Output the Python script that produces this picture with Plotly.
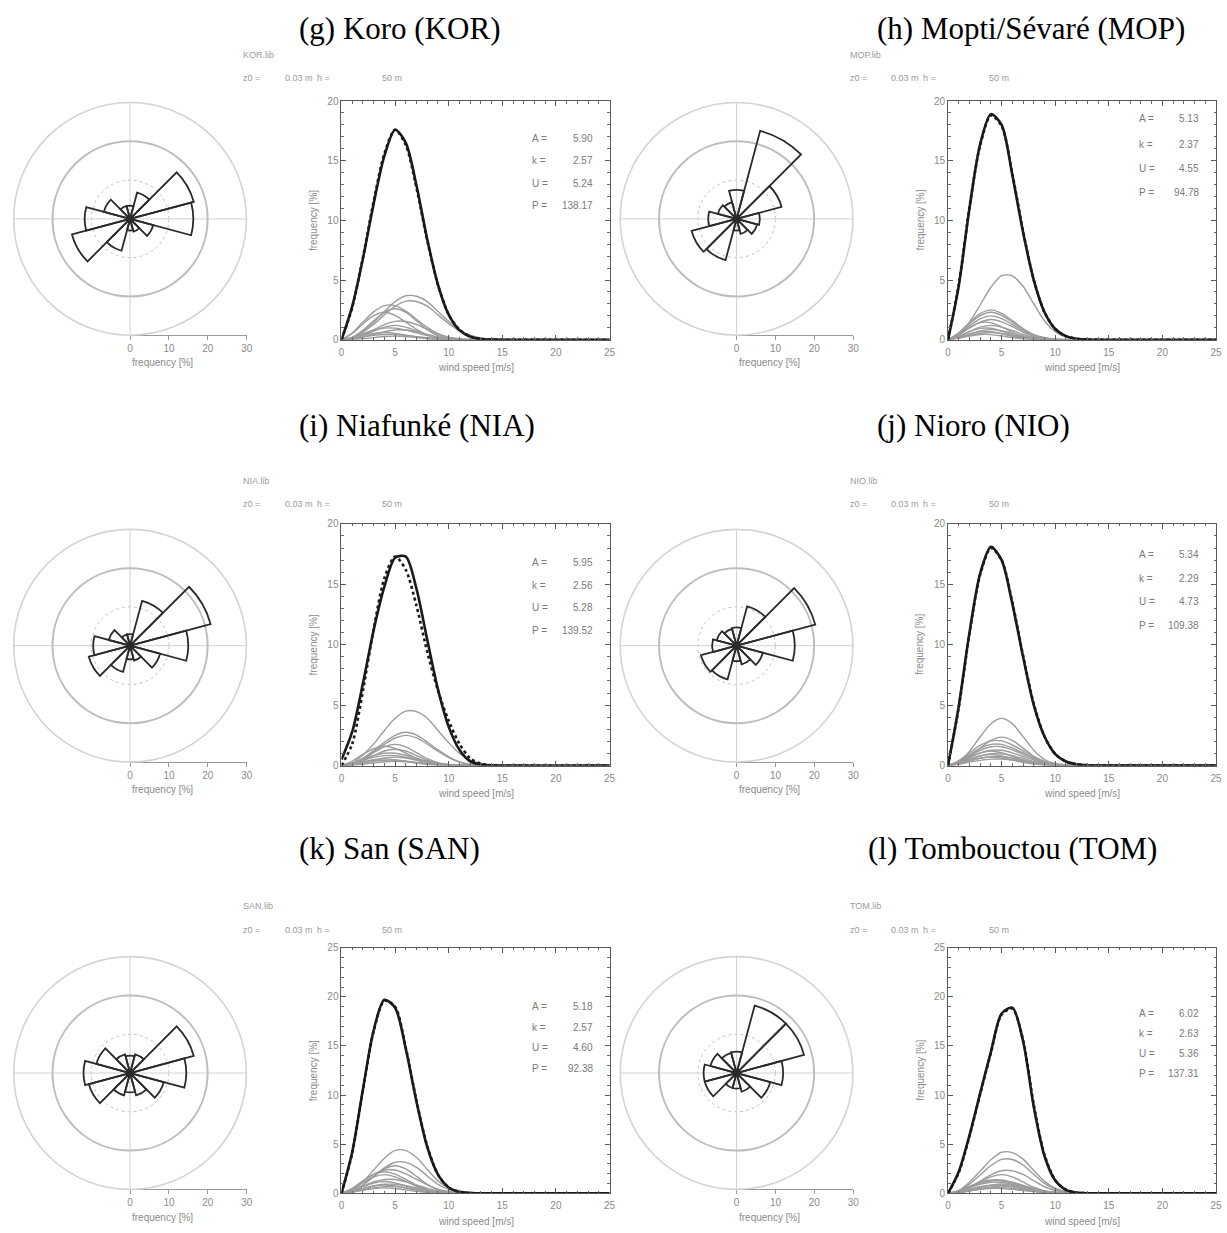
import plotly.graph_objects as go

# ---------------- data ----------------
WS = [0, 1, 2, 3, 4, 5, 6, 7, 8, 9, 10, 11, 12, 13, 14, 25]          # wind speed [m/s]
SECTORS = [0, 30, 60, 90, 120, 150, 180, 210, 240, 270, 300, 330]    # sector centres [deg]
STAT_LABELS = ["A =", "k =", "U =", "P ="]

TITLES = ["(g) Koro (KOR)", "(h) Mopti/Sévaré (MOP)", "(i) Niafunké (NIA)",
          "(j) Nioro (NIO)", "(k) San (SAN)", "(l) Tombouctou (TOM)"]
LIBS = ["KOR.lib", "MOP.lib", "NIA.lib", "NIO.lib", "SAN.lib", "TOM.lib"]

# wind rose frequencies [%] per sector
KOR_ROSE = [3.4, 7.0, 17.0, 16.3, 6.2, 3.4, 3.0, 8.5, 15.5, 11.7, 7.0, 3.5]
MOP_ROSE = [7.5, 23.5, 12.0, 6.0, 5.5, 4.0, 3.0, 11.0, 12.0, 7.3, 5.0, 4.5]
NIA_ROSE = [3.0, 12.0, 21.5, 15.0, 8.0, 4.0, 3.5, 7.0, 11.0, 9.5, 5.7, 3.0]
NIO_ROSE = [4.7, 10.5, 21.0, 15.0, 7.0, 5.0, 4.0, 9.0, 9.5, 6.3, 5.3, 4.5]
SAN_ROSE = [4.5, 5.0, 17.0, 14.5, 9.0, 6.0, 5.0, 6.0, 11.0, 12.0, 9.0, 5.0]
TOM_ROSE = [5.5, 18.0, 18.0, 12.0, 9.0, 5.0, 4.0, 4.0, 8.5, 8.5, 7.0, 5.4]

# statistics text
KOR_STATS = ["5.90", "2.57", "5.24", "138.17"]
MOP_STATS = ["5.13", "2.37", "4.55", "94.78"]
NIA_STATS = ["5.95", "2.56", "5.28", "139.52"]
NIO_STATS = ["5.34", "2.29", "4.73", "109.38"]
SAN_STATS = ["5.18", "2.57", "4.60", "92.38"]
TOM_STATS = ["6.02", "2.63", "5.36", "137.31"]

# total distributions [%] (solid = observed, dashed = fitted)
KOR_SOLID = [0, 2.8, 6.8, 11.4, 15.4, 17.6, 16.5, 12.9, 8.4, 4.6, 2.1, 0.8, 0.25, 0.06, 0.01, 0]
KOR_DASH = [0, 2.7, 6.9, 11.6, 15.6, 17.6, 16.3, 12.7, 8.3, 4.6, 2.1, 0.85, 0.28, 0.07, 0.01, 0]
MOP_SOLID = [0, 4.5, 11.0, 16.4, 18.9, 18.0, 13.8, 9.0, 5.0, 2.3, 0.9, 0.3, 0.08, 0.02, 0, 0]
MOP_DASH = [0, 4.6, 11.1, 16.3, 18.8, 17.9, 13.9, 9.1, 5.0, 2.3, 0.9, 0.3, 0.08, 0.02, 0, 0]
NIA_SOLID = [0.5, 2.8, 6.8, 11.2, 14.8, 17.2, 17.3, 14.6, 10.4, 6.3, 3.2, 1.3, 0.35, 0.08, 0.01, 0]
NIA_DASH = [0, 1.8, 6.2, 11.3, 15.5, 17.3, 16.2, 13.2, 9.4, 6.2, 3.7, 1.8, 0.6, 0.15, 0.02, 0]
NIO_SOLID = [0, 4.9, 11.0, 15.9, 18.1, 17.0, 13.4, 9.0, 5.0, 2.4, 0.95, 0.33, 0.1, 0.02, 0, 0]
NIO_DASH = [0, 4.8, 10.9, 15.8, 18.0, 17.0, 13.5, 9.1, 5.1, 2.4, 0.95, 0.33, 0.1, 0.02, 0, 0]
SAN_SOLID = [0, 4.2, 10.6, 16.6, 19.7, 18.9, 14.7, 9.3, 4.7, 1.9, 0.6, 0.15, 0.03, 0, 0, 0]
SAN_DASH = [0, 4.1, 10.5, 16.5, 19.6, 19.0, 14.8, 9.4, 4.8, 1.9, 0.6, 0.15, 0.03, 0, 0, 0]
TOM_SOLID = [0, 2.2, 5.9, 10.2, 14.4, 18.3, 18.9, 15.5, 8.8, 3.8, 1.3, 0.35, 0.08, 0.01, 0, 0]
TOM_DASH = [0, 2.1, 5.8, 10.1, 14.3, 18.2, 18.8, 15.6, 9.0, 3.9, 1.35, 0.37, 0.08, 0.01, 0, 0]

# per-sector distributions [%] (grey curves)
KOR_SECTOR_CURVES = [
    [0, .17, .71, 1.46, 2.36, 3.19, 3.68, 3.64, 3.19, 2.36, 1.54, .83, .38, .14, .04, 0],
    [0, .15, .63, 1.29, 2.08, 2.81, 3.23, 3.2, 2.81, 2.08, 1.35, .73, .33, .13, .04, 0],
    [0, .56, 1.48, 2.33, 2.86, 2.86, 2.39, 1.71, 1.03, .51, .22, .08, .02, 0, 0, 0],
    [0, .2, .78, 1.59, 2.3, 2.6, 2.3, 1.59, .85, .34, .1, .02, 0, 0, 0, 0],
    [0, .53, 1.32, 2.01, 2.3, 2.04, 1.47, .86, .4, .16, .05, .01, 0, 0, 0, 0],
    [0, .1, .42, .83, 1.26, 1.54, 1.53, 1.28, .86, .45, .19, .06, .01, 0, 0, 0],
    [0, .09, .36, .73, 1.06, 1.2, 1.06, .74, .39, .15, .05, .01, 0, 0, 0, 0],
    [0, .19, .5, .79, .97, .97, .81, .58, .35, .17, .08, .03, .01, 0, 0, 0],
    [0, .05, .22, .44, .67, .82, .81, .68, .45, .24, .1, .03, .01, 0, 0, 0],
    [0, .14, .35, .52, .6, .53, .38, .23, .1, .04, .01, 0, 0, 0, 0, 0],
    [0, .09, .23, .36, .44, .44, .36, .26, .16, .08, .03, .01, 0, 0, 0, 0],
    [0, .02, .09, .18, .27, .3, .27, .18, .1, .04, .01, 0, 0, 0, 0, 0],
]
MOP_SECTOR_CURVES = [
    [0, .36, 1.46, 2.91, 4.4, 5.38, 5.35, 4.48, 3.0, 1.57, .67, .21, .05, 0, 0, 0],
    [0, .58, 1.44, 2.18, 2.5, 2.21, 1.6, .94, .43, .17, .05, .01, 0, 0, 0, 0],
    [0, .53, 1.32, 2.01, 2.3, 2.04, 1.47, .86, .4, .16, .05, .01, 0, 0, 0, 0],
    [0, .46, 1.15, 1.75, 2.0, 1.77, 1.28, .75, .35, .14, .04, .01, 0, 0, 0, 0],
    [0, .39, .98, 1.48, 1.7, 1.5, 1.09, .64, .29, .12, .03, .01, 0, 0, 0, 0],
    [0, .42, 1.01, 1.43, 1.43, 1.08, .62, .26, .09, .02, 0, 0, 0, 0, 0, 0],
    [0, .28, .69, 1.05, 1.2, 1.06, .77, .45, .21, .08, .02, .01, 0, 0, 0, 0],
    [0, .28, .68, .95, .96, .72, .41, .17, .06, .02, 0, 0, 0, 0, 0, 0],
    [0, .2, .49, .74, .85, .75, .54, .32, .15, .06, .02, 0, 0, 0, 0, 0],
    [0, .2, .47, .67, .67, .5, .29, .12, .04, .01, 0, 0, 0, 0, 0, 0],
    [0, .14, .35, .52, .6, .53, .38, .23, .1, .04, .01, 0, 0, 0, 0, 0],
    [0, .13, .3, .43, .43, .32, .18, .08, .03, .01, 0, 0, 0, 0, 0, 0],
]
NIA_SECTOR_CURVES = [
    [0, .21, .87, 1.79, 2.9, 3.91, 4.51, 4.46, 3.91, 2.9, 1.89, 1.01, .46, .17, .05, 0],
    [0, .15, .61, 1.24, 1.93, 2.5, 2.75, 2.52, 1.95, 1.29, .72, .3, .1, .03, 0, 0],
    [0, .14, .55, 1.13, 1.75, 2.28, 2.5, 2.29, 1.78, 1.18, .65, .28, .1, .03, 0, 0],
    [0, .14, .53, 1.07, 1.55, 1.75, 1.55, 1.07, .57, .23, .07, .01, 0, 0, 0, 0],
    [0, .37, .92, 1.4, 1.6, 1.42, 1.02, .6, .28, .11, .03, .01, 0, 0, 0, 0],
    [0, .11, .41, .82, 1.2, 1.35, 1.2, .83, .44, .17, .05, .01, 0, 0, 0, 0],
    [0, .2, .53, .83, 1.02, 1.02, .85, .61, .37, .18, .08, .03, .01, 0, 0, 0],
    [0, .16, .43, .67, .82, .82, .69, .49, .3, .15, .06, .02, .01, 0, 0, 0],
    [0, .05, .21, .43, .62, .7, .62, .43, .23, .09, .03, .01, 0, 0, 0, 0],
    [0, .13, .32, .48, .55, .49, .35, .21, .1, .04, .01, 0, 0, 0, 0, 0],
    [0, .09, .23, .36, .44, .44, .36, .26, .16, .08, .03, .01, 0, 0, 0, 0],
    [0, .03, .11, .21, .31, .35, .31, .21, .11, .05, .01, 0, 0, 0, 0, 0],
]
NIO_SECTOR_CURVES = [
    [0, .3, 1.17, 2.38, 3.46, 3.9, 3.46, 2.39, 1.27, .5, .15, .03, 0, 0, 0, 0],
    [0, .18, .71, 1.43, 2.08, 2.35, 2.08, 1.44, .76, .3, .09, .02, 0, 0, 0, 0],
    [0, .4, 1.05, 1.66, 2.04, 2.04, 1.7, 1.22, .74, .36, .16, .06, .02, 0, 0, 0],
    [0, .34, .9, 1.42, 1.75, 1.75, 1.46, 1.04, .63, .31, .14, .05, .01, 0, 0, 0],
    [0, .3, .8, 1.26, 1.55, 1.55, 1.3, .93, .56, .28, .12, .04, .01, 0, 0, 0],
    [0, .25, .65, 1.03, 1.26, 1.26, 1.05, .75, .46, .22, .1, .04, .01, 0, 0, 0],
    [0, .28, .69, 1.05, 1.2, 1.06, .77, .45, .21, .08, .02, .01, 0, 0, 0, 0],
    [0, .19, .5, .79, .97, .97, .81, .58, .35, .17, .08, .03, .01, 0, 0, 0],
    [0, .21, .52, .79, .9, .8, .58, .34, .16, .06, .02, 0, 0, 0, 0, 0],
    [0, .14, .38, .59, .73, .73, .61, .44, .26, .13, .06, .02, .01, 0, 0, 0],
    [0, .16, .4, .61, .7, .62, .45, .26, .12, .05, .01, 0, 0, 0, 0, 0],
    [0, .1, .28, .43, .53, .53, .45, .32, .19, .1, .04, .01, 0, 0, 0, 0],
]
SAN_SECTOR_CURVES = [
    [0, .29, 1.18, 2.37, 3.57, 4.37, 4.35, 3.64, 2.43, 1.27, .55, .17, .04, 0, 0, 0],
    [0, .21, .86, 1.72, 2.59, 3.17, 3.15, 2.64, 1.77, .92, .4, .13, .03, 0, 0, 0],
    [0, .22, .84, 1.71, 2.48, 2.8, 2.48, 1.72, .91, .36, .11, .02, 0, 0, 0, 0],
    [0, .47, 1.23, 1.94, 2.38, 2.38, 1.98, 1.42, .86, .42, .18, .07, .02, 0, 0, 0],
    [0, .51, 1.27, 1.92, 2.2, 1.95, 1.41, .83, .38, .15, .04, .01, 0, 0, 0, 0],
    [0, .44, 1.09, 1.66, 1.9, 1.68, 1.22, .71, .33, .13, .04, .01, 0, 0, 0, 0],
    [0, .28, .73, 1.15, 1.41, 1.41, 1.17, .84, .51, .25, .11, .04, .01, 0, 0, 0],
    [0, .28, .69, 1.05, 1.2, 1.06, .77, .45, .21, .08, .02, .01, 0, 0, 0, 0],
    [0, .18, .48, .75, .92, .92, .77, .55, .33, .16, .07, .03, .01, 0, 0, 0],
    [0, .2, .49, .74, .85, .75, .54, .32, .15, .06, .02, 0, 0, 0, 0, 0],
    [0, .13, .35, .55, .68, .68, .57, .41, .25, .12, .05, .02, .01, 0, 0, 0],
    [0, .13, .32, .48, .55, .49, .35, .21, .1, .04, .01, 0, 0, 0, 0, 0],
]
TOM_SECTOR_CURVES = [
    [0, .28, 1.13, 2.26, 3.41, 4.18, 4.15, 3.48, 2.33, 1.22, .52, .17, .04, 0, 0, 0],
    [0, .23, .94, 1.87, 2.83, 3.46, 3.44, 2.88, 1.93, 1.01, .43, .14, .03, 0, 0, 0],
    [0, .15, .62, 1.25, 1.88, 2.3, 2.29, 1.92, 1.28, .67, .29, .09, .02, 0, 0, 0],
    [0, .15, .57, 1.16, 1.68, 1.9, 1.68, 1.16, .62, .25, .07, .02, 0, 0, 0, 0],
    [0, .27, .7, 1.11, 1.36, 1.36, 1.13, .81, .49, .24, .11, .04, .01, 0, 0, 0],
    [0, .25, .65, 1.03, 1.26, 1.26, 1.05, .75, .46, .22, .1, .04, .01, 0, 0, 0],
    [0, .22, .58, .91, 1.12, 1.12, .93, .67, .4, .2, .09, .03, .01, 0, 0, 0],
    [0, .07, .29, .58, .84, .95, .84, .58, .31, .12, .04, .01, 0, 0, 0, 0],
    [0, .16, .43, .67, .82, .82, .69, .49, .3, .15, .06, .02, .01, 0, 0, 0],
    [0, .06, .23, .46, .66, .75, .66, .46, .24, .1, .03, .01, 0, 0, 0, 0],
    [0, .11, .3, .47, .58, .58, .49, .35, .21, .1, .05, .02, 0, 0, 0, 0],
    [0, .1, .25, .4, .49, .49, .41, .29, .18, .09, .04, .01, 0, 0, 0, 0],
]

ROSES = [KOR_ROSE, MOP_ROSE, NIA_ROSE, NIO_ROSE, SAN_ROSE, TOM_ROSE]
STATS = [KOR_STATS, MOP_STATS, NIA_STATS, NIO_STATS, SAN_STATS, TOM_STATS]
SOLIDS = [KOR_SOLID, MOP_SOLID, NIA_SOLID, NIO_SOLID, SAN_SOLID, TOM_SOLID]
DASHES = [KOR_DASH, MOP_DASH, NIA_DASH, NIO_DASH, SAN_DASH, TOM_DASH]
SECTOR_CURVES = [KOR_SECTOR_CURVES, MOP_SECTOR_CURVES, NIA_SECTOR_CURVES,
                 NIO_SECTOR_CURVES, SAN_SECTOR_CURVES, TOM_SECTOR_CURVES]

# ---------------- layout geometry (pixels) ----------------
W, H = 1227, 1233
ROWS = [
    dict(cy=215, top=96, bottom=337, ymax=20, title_y=23, lib_y=49, z0_y=73),
    dict(cy=646, top=523, bottom=767, ymax=20, title_y=424, lib_y=480, z0_y=503),
    dict(cy=1077.5, top=951, bottom=1199, ymax=25, title_y=851, lib_y=909, z0_y=933),
]
COL_DX = [0, 611]
TITLE_X = [296, 878, 296, 878, 296, 869]
STAT_Y = [[16.9, 15.0, 13.1, 11.25], [18.5, 16.4, 14.35, 12.3], [16.8, 14.9, 13.05, 11.2],
          [17.5, 15.5, 13.55, 11.6], [19.0, 16.9, 14.8, 12.7], [18.3, 16.25, 14.2, 12.2]]
R_PX = 117.5

GREY_TXT = "#8a8a8a"
SANS = "Liberation Sans"


def fx(px):
    return px / W


def fy(px):
    return 1 - px / H


def sfx(n):
    return "" if n == 1 else str(n)


fig = go.Figure()
layout = dict(width=W, height=H, margin=dict(l=0, r=0, t=0, b=0), autosize=False,
              paper_bgcolor="white", plot_bgcolor="white", showlegend=False)
annotations = []

for i in range(6):
    row = ROWS[i // 2]
    dx = COL_DX[i % 2]
    nl = i + 1      # line chart axes
    nf = i + 7      # frequency axis of the rose
    xl, yl = "x" + sfx(nl), "y" + sfx(nl)
    xf, yf = "x" + sfx(nf), "y" + sfx(nf)
    p_ring = "polar" + sfx(i + 1)
    p_bar = "polar" + sfx(i + 7)

    # ---- grey sector curves ----
    for c in SECTOR_CURVES[i]:
        fig.add_trace(go.Scatter(x=WS, y=c, mode="lines", xaxis=xl, yaxis=yl, hoverinfo="skip",
                                 line=dict(color="#9c9c9c", width=1.4, shape="spline", smoothing=0.8)))
    fig.add_trace(go.Scatter(x=WS, y=SOLIDS[i], mode="lines", xaxis=xl, yaxis=yl, hoverinfo="skip",
                             line=dict(color="#1a1a1a", width=2.6, shape="spline", smoothing=0.8)))
    fig.add_trace(go.Scatter(x=WS, y=DASHES[i], mode="lines", xaxis=xl, yaxis=yl, hoverinfo="skip",
                             line=dict(color="#1a1a1a", width=2.6, dash="3px,3px", shape="spline", smoothing=0.8)))

    axis_common = dict(showgrid=False, zeroline=False, showline=True, linecolor="#5a5a5a", linewidth=1,
                       mirror="ticks", ticks="inside", ticklen=5, tickwidth=1, tickcolor="#5a5a5a",
                       dtick=5, tick0=0,
                       minor=dict(ticks="inside", ticklen=2.5, dtick=1, tickcolor="#6a6a6a"),
                       tickfont=dict(family=SANS, size=10, color=GREY_TXT))
    layout["xaxis" + sfx(nl)] = dict(axis_common, domain=[fx(341 + dx), fx(611 + dx)], range=[0, 25],
                                     anchor=yl, ticklabelstandoff=3)
    layout["yaxis" + sfx(nl)] = dict(axis_common, domain=[fy(row["bottom"]), fy(row["top"])],
                                     range=[0, row["ymax"]], anchor=xl)

    # ---- wind rose ----
    cx, cy = 128 + dx, row["cy"]
    dom = dict(x=[fx(cx - R_PX), fx(cx + R_PX)], y=[fy(cy + R_PX), fy(cy - R_PX)])
    layout[p_ring] = dict(domain=dom, bgcolor="white",
                          radialaxis=dict(range=[0, 30], tickvals=[10], showticklabels=False, ticks="",
                                          showline=False, gridcolor="#c2c2c2", gridwidth=1.2, griddash="dot"),
                          angularaxis=dict(showgrid=False, showline=False, showticklabels=False, ticks=""))
    layout[p_bar] = dict(domain=dom, bgcolor="rgba(0,0,0,0)",
                         radialaxis=dict(range=[0, 30], tickvals=[20], showticklabels=False, ticks="",
                                         showline=False, gridcolor="#bdbdbd", gridwidth=1.6),
                         angularaxis=dict(rotation=90, direction="clockwise", tickvals=[0, 90, 180, 270],
                                          showticklabels=False, ticks="", gridcolor="#d2d2d2", gridwidth=1,
                                          showline=True, linecolor="#d4d4d4", linewidth=1.6))
    fig.add_trace(go.Scatterpolar(r=[0], theta=[0], mode="markers", subplot=p_ring, hoverinfo="skip",
                                  marker=dict(size=8, color="black")))
    fig.add_trace(go.Barpolar(r=ROSES[i], theta=SECTORS, width=[30] * len(SECTORS), subplot=p_bar,
                              hoverinfo="skip",
                              marker=dict(color="rgba(0,0,0,0)", line=dict(color="#2a2a2a", width=1.8))))

    # frequency axis below the rose
    cb = cy + R_PX
    layout["xaxis" + sfx(nf)] = dict(domain=[fx(cx), fx(cx + R_PX)], range=[0, 30], anchor=yf,
                                     tickvals=[0, 10, 20, 30], ticks="outside", ticklen=4, tickcolor="#9a9a9a",
                                     showline=True, linecolor="#9a9a9a", linewidth=1.2, showgrid=False,
                                     zeroline=False, tickfont=dict(family=SANS, size=10, color=GREY_TXT))
    layout["yaxis" + sfx(nf)] = dict(domain=[fy(cb), fy(cb - 6)], anchor=xf, range=[0, 1], visible=False)
    fig.add_trace(go.Scatter(x=[0, 30], y=[0.5, 0.5], mode="lines", xaxis=xf, yaxis=yf, hoverinfo="skip",
                             line=dict(width=0, color="rgba(0,0,0,0)")))

    # ---- texts ----
    annotations.append(dict(text=TITLES[i], x=fx(TITLE_X[i]), y=fy(row["title_y"]), xref="paper", yref="paper",
                            xanchor="left", yanchor="middle", showarrow=False,
                            font=dict(family="Liberation Serif", size=31, color="black")))
    small = dict(xref="paper", yref="paper", xanchor="left", yanchor="middle", showarrow=False,
                 font=dict(family=SANS, size=9, color="#9a9a9a"))
    annotations.append(dict(small, text=LIBS[i], x=fx(240 + dx), y=fy(row["lib_y"])))
    for t, px in [("z0 =", 240), ("0.03 m", 282), ("h =", 314), ("50 m", 380)]:
        annotations.append(dict(small, text=t, x=fx(px + dx), y=fy(row["z0_y"])))

    lab = dict(xref="paper", yref="paper", showarrow=False, font=dict(family=SANS, size=10, color=GREY_TXT))
    annotations.append(dict(lab, text="frequency [%]", textangle=-90, x=fx(313 + dx),
                            y=fy((row["top"] + row["bottom"]) / 2), xanchor="center", yanchor="middle"))
    annotations.append(dict(lab, text="wind speed [m/s]", x=fx(476 + dx), y=fy(row["bottom"] + 28),
                            xanchor="center", yanchor="middle"))
    annotations.append(dict(lab, text="frequency [%]", x=fx(cx), y=fy(cb + 28),
                            xanchor="left", yanchor="middle"))

    for lbl, val, yy in zip(STAT_LABELS, STATS[i], STAT_Y[i]):
        st = dict(xref=xl, yref=yl, showarrow=False, yanchor="middle",
                  font=dict(family=SANS, size=10, color="#7a7a7a"))
        annotations.append(dict(st, text=lbl, x=17.6, y=yy, xanchor="left"))
        annotations.append(dict(st, text=val, x=23.6, y=yy, xanchor="right"))

layout["annotations"] = annotations
fig.update_layout(**layout)
fig.write_html("out.html")
